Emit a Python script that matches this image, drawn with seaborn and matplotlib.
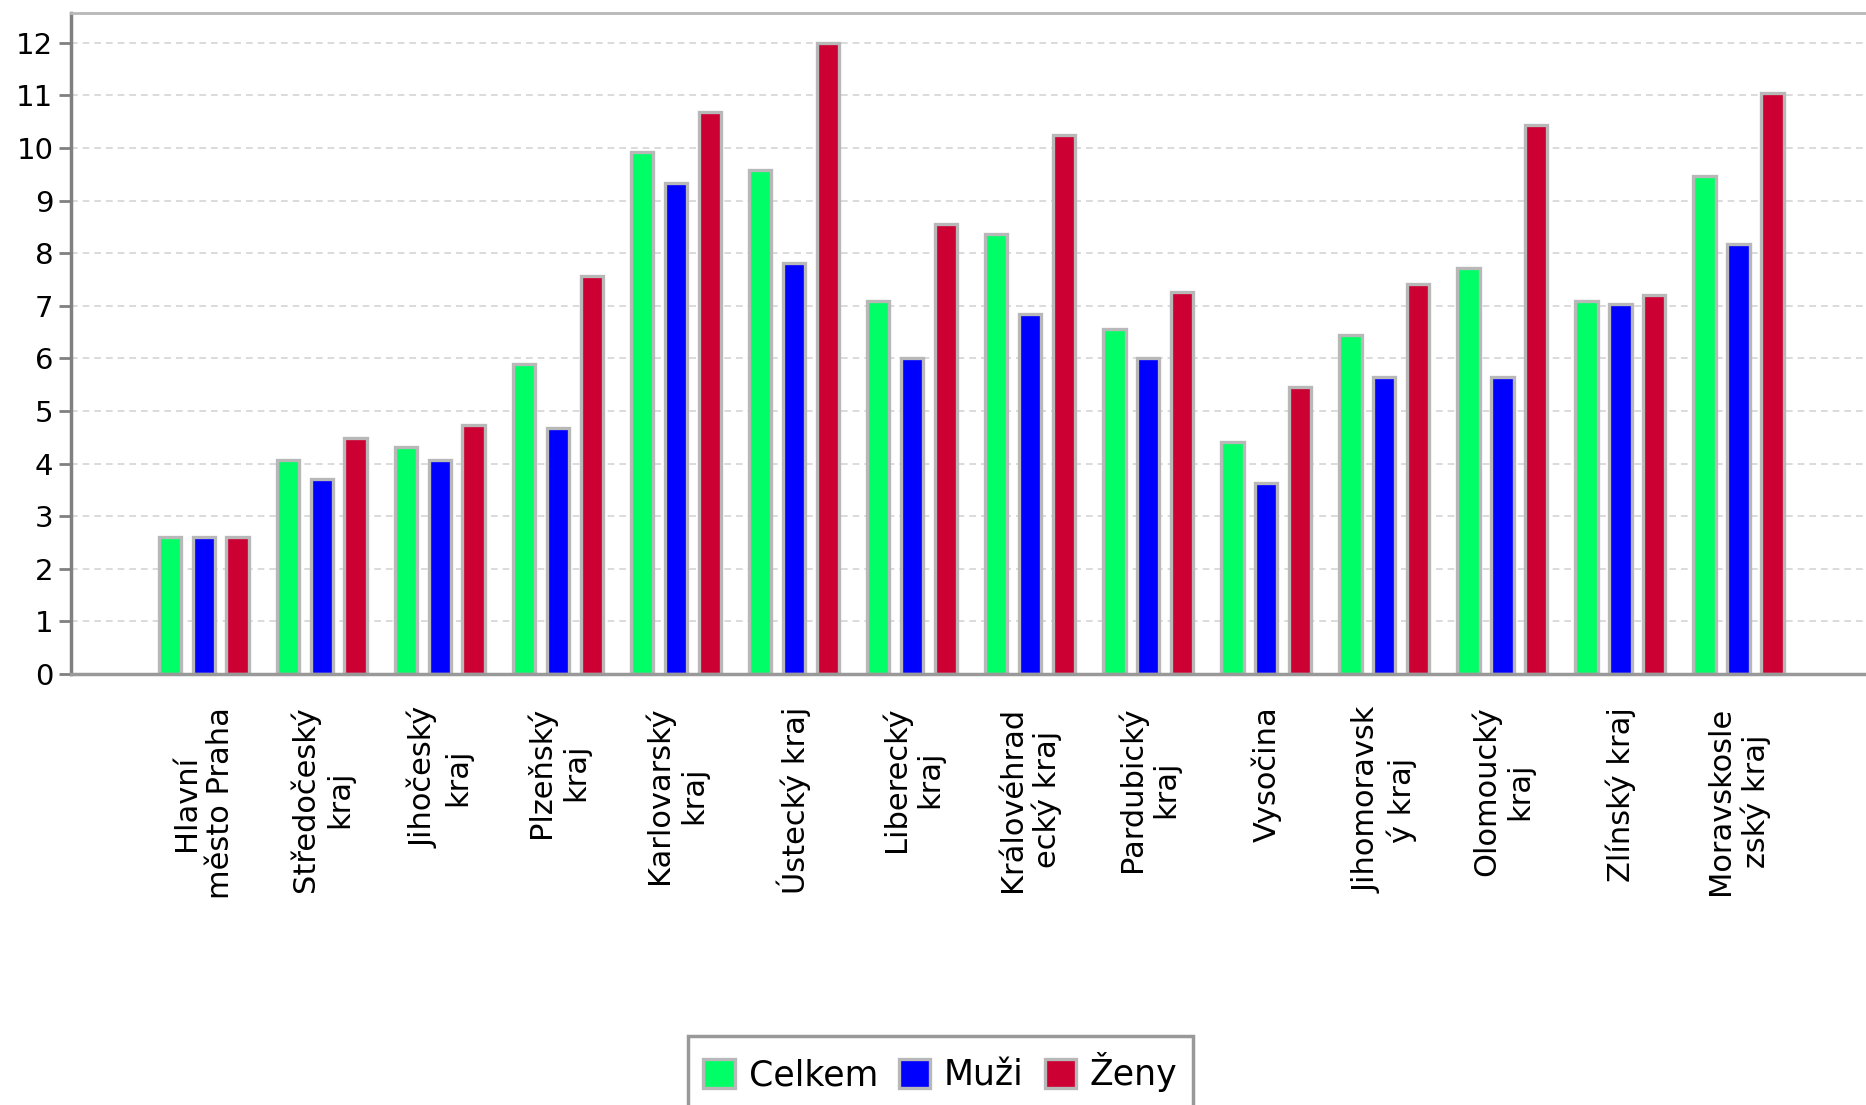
import pandas as pd
import matplotlib.pyplot as plt
import seaborn as sns

# Data
regions = ["Hlavní\nměsto Praha", "Středočeský\nkraj", "Jihočeský\nkraj", "Plzeňský\nkraj",
           "Karlovarský\nkraj", "Ústecký kraj", "Liberecký\nkraj", "Královéhrad\necký kraj",
           "Pardubický\nkraj", "Vysočina", "Jihomoravsk\ný kraj", "Olomoucký\nkraj",
           "Zlínský kraj", "Moravskosle\nzský kraj"]
celkem = [2.6, 4.07, 4.32, 5.89, 9.93, 9.58, 7.10, 8.37, 6.55, 4.42, 6.45, 7.71, 7.10, 9.47]
muzi = [2.6, 3.71, 4.07, 4.67, 9.34, 7.82, 6.00, 6.85, 6.00, 3.63, 5.65, 5.65, 7.03, 8.18]
zeny = [2.6, 4.48, 4.73, 7.57, 10.68, 12.0, 8.55, 10.25, 7.27, 5.45, 7.41, 10.44, 7.21, 11.05]
series = ["Celkem", "Muži", "Ženy"]
colors = ["#00ff66", "#0000ff", "#cc0033"]

df = pd.DataFrame({"Kraj": regions, "Celkem": celkem, "Muži": muzi, "Ženy": zeny})
long_df = df.melt(id_vars="Kraj", var_name="Skupina", value_name="Hodnota")

sns.set_style("white")
plt.rcParams['font.family'] = ['DejaVu Sans']
plt.rcParams['text.color'] = 'black'

fig = plt.figure(figsize=(18.66, 11.05), dpi=100)
ax = fig.add_axes([0.0383, 0.390, 0.9617, 0.598])

sns.barplot(data=long_df, x="Kraj", y="Hodnota", hue="Skupina", hue_order=series,
            palette=colors, width=0.86, gap=0.34, edgecolor="#b8b8b8", linewidth=2.4,
            saturation=1, ax=ax)

ax.set_ylim(0, 12.56)
ax.set_xlim(-1.12, 14.08)
ax.set_yticks(range(0, 13))
ax.yaxis.grid(True, linestyle=(0, (4, 3)), color="#d4d4d4", linewidth=1.2)
ax.set_axisbelow(True)
ax.set_xlabel("")
ax.set_ylabel("")

ax.tick_params(axis="y", which="both", left=True, length=9, width=2, color="#808080",
               labelsize=21, labelcolor="black", pad=4)
ax.tick_params(axis="x", bottom=False, pad=20, labelcolor="black")
for lbl in ax.get_xticklabels():
    lbl.set_rotation(90)
    lbl.set_ha("center")
    lbl.set_va("top")
    lbl.set_multialignment("center")
    lbl.set_fontsize(22)

ax.spines["left"].set_color("#808080")
ax.spines["left"].set_linewidth(2.5)
ax.spines["bottom"].set_color("#999999")
ax.spines["bottom"].set_linewidth(2.5)
ax.spines["top"].set_color("#b8b8b8")
ax.spines["top"].set_linewidth(2)
ax.spines["right"].set_visible(False)

handles, labels = ax.get_legend_handles_labels()
ax.get_legend().remove()
leg = fig.legend(handles, labels, loc="upper center", bbox_to_anchor=(0.504, 0.062),
                 ncol=3, fontsize=25, frameon=True, fancybox=False, handlelength=0.9,
                 handleheight=0.9, handletextpad=0.4, columnspacing=0.6,
                 borderpad=0.45, borderaxespad=0)
leg.get_frame().set_edgecolor("#808080")
leg.get_frame().set_linewidth(2.5)
for t in leg.get_texts():
    t.set_color("black")

fig.savefig("out.png", dpi=100)
